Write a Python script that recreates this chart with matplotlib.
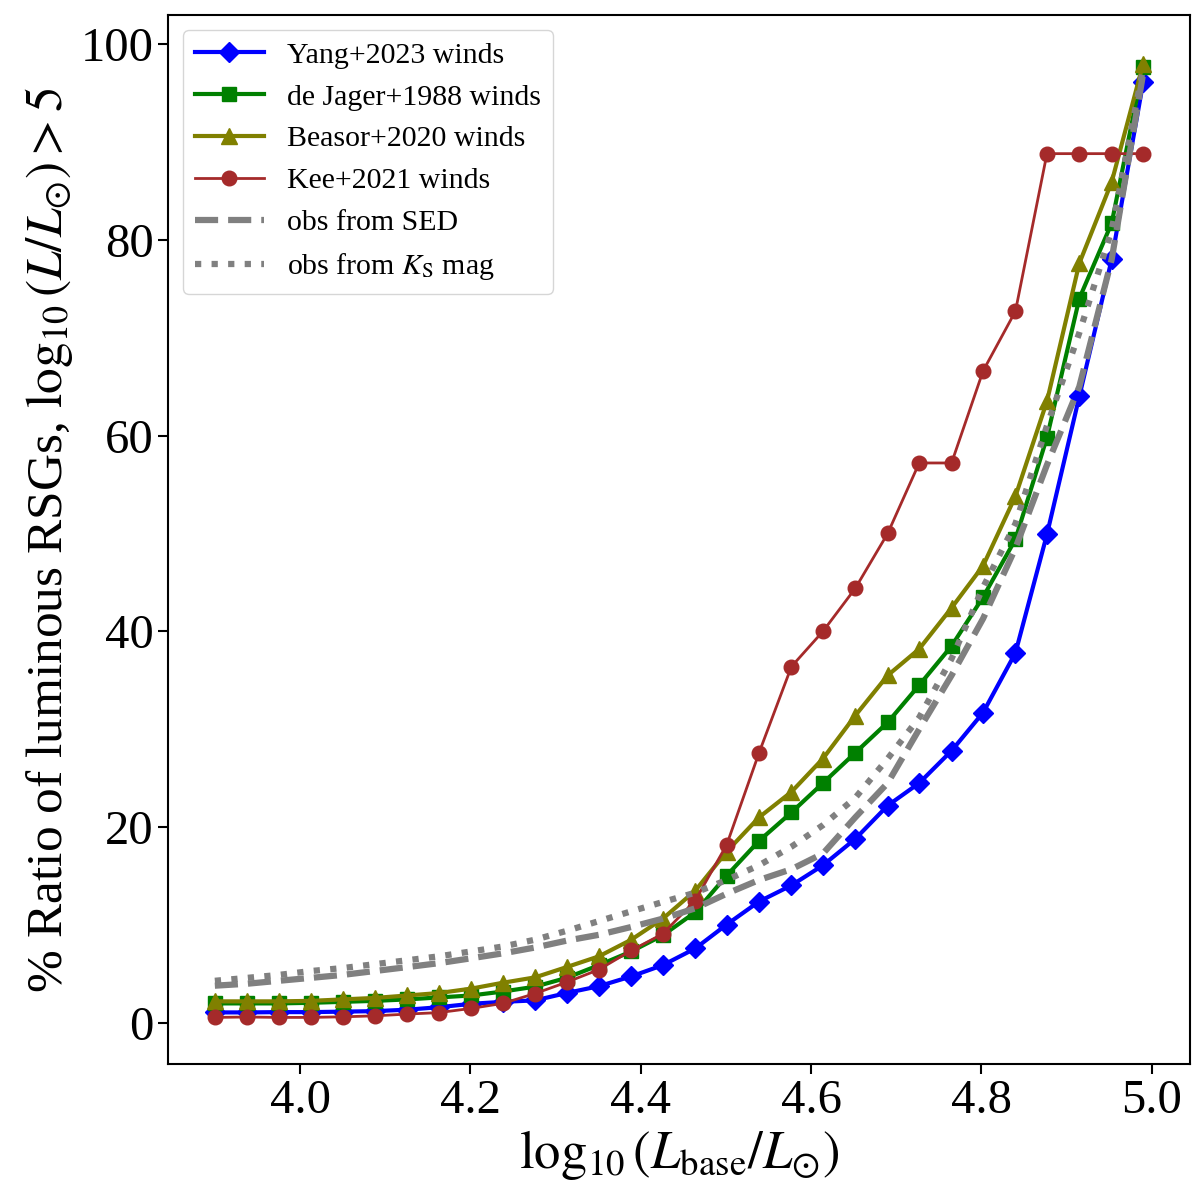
import matplotlib
matplotlib.use('Agg')
import matplotlib.pyplot as plt

# log10(L_base / Lsun) grid
log_l_base = [3.900, 3.938, 3.975, 4.013, 4.050, 4.088, 4.126, 4.163, 4.201, 4.238,
              4.276, 4.313, 4.351, 4.389, 4.426, 4.464, 4.501, 4.539, 4.577, 4.614,
              4.652, 4.690, 4.727, 4.765, 4.802, 4.840, 4.877, 4.915, 4.953, 4.990]

# % ratio of luminous RSGs for each wind prescription
yang2023 = [1.07, 1.07, 1.1, 1.1, 1.15, 1.2, 1.35, 1.6, 1.95, 2.15,
            2.3, 3.05, 3.75, 4.75, 5.9, 7.6, 10.05, 12.4, 14.05, 16.1,
            18.8, 22.2, 24.5, 27.8, 31.7, 37.8, 49.9, 64.0, 78.0, 96.1]
dejager1988 = [1.99, 1.99, 1.99, 2.05, 2.15, 2.25, 2.4, 2.6, 2.8, 3.2,
               3.7, 4.6, 5.9, 7.3, 8.95, 11.3, 15.05, 18.6, 21.5, 24.5,
               27.6, 30.7, 34.5, 38.5, 43.5, 49.4, 59.8, 74.0, 81.7, 97.7]
beasor2020 = [2.2, 2.2, 2.2, 2.25, 2.4, 2.55, 2.8, 3.05, 3.5, 4.1,
              4.65, 5.7, 6.8, 8.5, 10.65, 13.5, 17.5, 21.0, 23.6, 27.0,
              31.4, 35.5, 38.2, 42.4, 46.7, 53.8, 63.5, 77.6, 85.9, 98.0]
kee2021 = [0.56, 0.6, 0.56, 0.56, 0.62, 0.72, 0.9, 1.05, 1.48, 1.99,
           3.0, 4.15, 5.45, 7.4, 9.1, 12.5, 18.2, 27.6, 36.4, 40.0,
           44.4, 50.0, 57.2, 57.2, 66.6, 72.7, 88.8, 88.8, 88.8, 88.8]

# observed ratios
obs_sed = [3.8, 4.0, 4.3, 4.6, 4.9, 5.3, 5.7, 6.1, 6.6, 7.1,
           7.7, 8.4, 9.0, 9.8, 10.65, 11.7, 13.2, 14.6, 15.7, 17.3,
           21.0, 24.5, 30.0, 35.5, 41.3, 48.5, 57.0, 65.0, 78.0, 97.0]
obs_ks = [4.3, 4.6, 4.9, 5.3, 5.6, 6.0, 6.4, 6.8, 7.3, 7.8,
          8.5, 9.4, 10.4, 11.4, 12.35, 13.3, 14.6, 16.1, 18.0, 20.2,
          23.0, 27.0, 31.2, 37.2, 44.5, 51.0, 61.0, 70.5, 81.0, 97.5]

x_ticks = [4.0, 4.2, 4.4, 4.6, 4.8, 5.0]
y_ticks = [0, 20, 40, 60, 80, 100]


def main():
    plt.rcParams['font.family'] = 'serif'
    plt.rcParams['font.serif'] = ['Liberation Serif', 'DejaVu Serif']
    plt.rcParams['mathtext.fontset'] = 'stix'
    plt.rcParams['axes.linewidth'] = 1.5

    fig = plt.figure(figsize=(12, 12.03), dpi=100)
    ax = fig.add_axes([0.140, 0.1153, 0.8517, 0.8722])

    ax.plot(log_l_base, yang2023, color='blue', marker='D', ms=10, lw=3,
            label='Yang+2023 winds')
    ax.plot(log_l_base, dejager1988, color='green', marker='s', ms=10.5, lw=3,
            label='de Jager+1988 winds')
    ax.plot(log_l_base, beasor2020, color='olive', marker='^', ms=11, lw=3,
            label='Beasor+2020 winds')
    ax.plot(log_l_base, kee2021, color='brown', marker='o', ms=10.5, lw=2,
            label='Kee+2021 winds')
    ax.plot(log_l_base, obs_sed, color='gray', ls='--', lw=4.5,
            label='obs from SED')
    ax.plot(log_l_base, obs_ks, color='gray', ls=':', lw=4.5,
            label=r'obs from $K_{\rm S}$ mag')

    ax.set_xlim(3.845, 5.045)
    ax.set_ylim(-4.23, 102.96)
    ax.set_xticks(x_ticks)
    ax.set_yticks(y_ticks)
    ax.tick_params(labelsize=35, length=7, width=1.5)

    ax.set_xlabel(r'$\log_{10}(L_{\rm base}/L_{\odot})$', fontsize=38)
    ax.set_ylabel(r'% Ratio of luminous RSGs, $\log_{10}(L/L_{\odot}) > 5$', fontsize=37)

    ax.legend(loc='upper left', fontsize=21.5, handlelength=2.3)

    fig.savefig('out.png', dpi=100)
    plt.close(fig)


if __name__ == '__main__':
    main()
